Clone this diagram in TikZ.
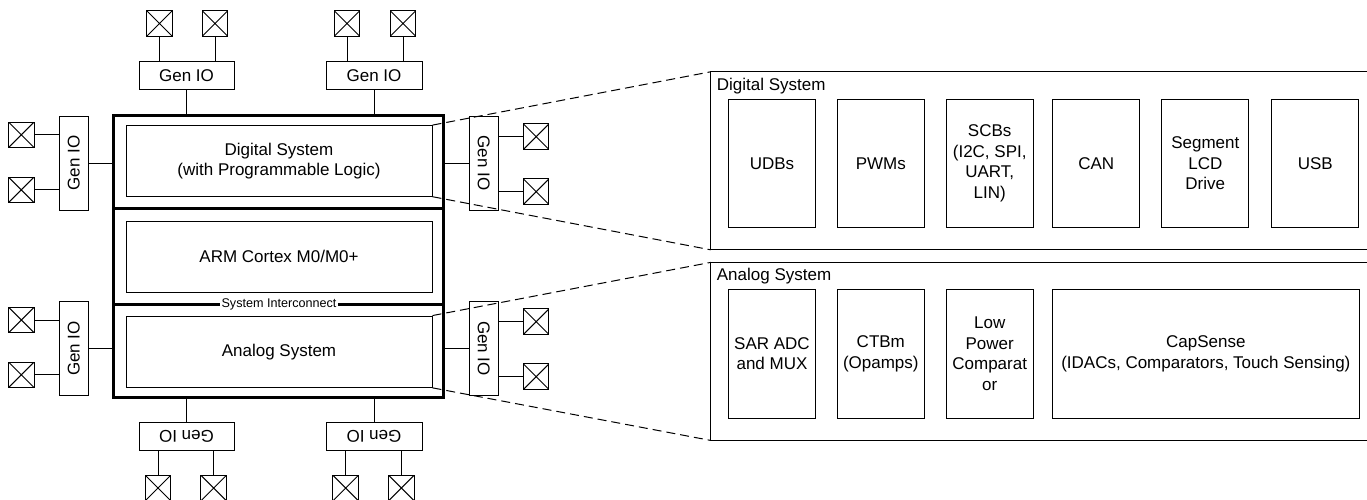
\documentclass[tikz,border=0pt]{standalone}
\usepackage{fontspec}
\setmainfont{Liberation Sans}
\begin{document}
\begin{tikzpicture}[x=0.5pt,y=-0.5pt,
  wire/.style={line width=0.5pt},
  box/.style={draw, line width=0.5pt, inner sep=0pt, align=center, font=\fontsize{8.5}{10.2}\selectfont},
  hgio/.style={box, minimum width=47.5pt, minimum height=13.75pt},
  vgio/.style={box, minimum width=14.5pt, minimum height=47pt},
  pad/.style={draw, line width=0.5pt, minimum size=12.75pt, inner sep=0pt,
    path picture={\draw[line width=0.5pt] (path picture bounding box.north west) -- (path picture bounding box.south east)
      (path picture bounding box.north east) -- (path picture bounding box.south west);}},
  inner/.style={box, minimum width=153pt, minimum height=35.3pt},
  blk/.style={box, minimum width=43.5pt, minimum height=64.4pt},
  panel/.style={inner sep=0pt, minimum width=328pt, minimum height=88.6pt},
  plabel/.style={anchor=west, inner sep=0pt, font=\fontsize{8.5}{10.2}\selectfont},
  dashline/.style={line width=0.5pt, dash pattern=on 4.5pt off 2.5pt},
  thick3/.style={line width=1.5pt}]
\useasboundingbox (0,0) rectangle (1367,499);

% main box
\node[draw, thick3, minimum width=165pt, minimum height=141.25pt, inner sep=0pt] (main) at (278.5,256.25) {};
\draw[thick3] (113.5,208) -- (443.5,208);
\draw[thick3] (113.5,304.3) -- (443.5,304.3);
\node[fill=white, inner xsep=1pt, inner ysep=0.3pt, font=\fontsize{6.3}{7}\selectfont] (si) at (279,304.3) {System Interconnect};

\node[inner] (digin) at (279,160.9) {Digital System\\(with Programmable Logic)};
\node[inner] (arm) at (279,256.9) {ARM Cortex M0/M0+};
\node[inner, minimum height=35.65pt] (anain) at (279,351.7) {Analog System};

% top Gen IO
\node[hgio] (gT1) at (186.5,75.5) {Gen IO};
\node[hgio, minimum width=48pt] (gT2) at (374,75.5) {Gen IO};
\node[pad] (pT1) at (159.5,23.5) {};
\node[pad] (pT2) at (215,23.5) {};
\node[pad] (pT3) at (347,23.5) {};
\node[pad] (pT4) at (403,23.5) {};
\draw[wire] (pT1.south) -- (pT1.south |- gT1.north);
\draw[wire] (pT2.south) -- (pT2.south |- gT1.north);
\draw[wire] (pT3.south) -- (pT3.south |- gT2.north);
\draw[wire] (pT4.south) -- (pT4.south |- gT2.north);
\draw[wire] (gT1.south) -- (gT1.south |- main.north);
\draw[wire] (gT2.south) -- (gT2.south |- main.north);

% bottom Gen IO
\node[hgio] (gB1) at (186.5,436.3) {\rotatebox{180}{Gen IO}};
\node[hgio, minimum width=48pt] (gB2) at (374,436.3) {\rotatebox{180}{Gen IO}};
\node[pad] (pB1) at (158,488) {};
\node[pad] (pB2) at (213.7,488) {};
\node[pad] (pB3) at (345.7,488) {};
\node[pad] (pB4) at (401.3,488) {};
\draw[wire] (pB1.north) -- (pB1.north |- gB1.south);
\draw[wire] (pB2.north) -- (pB2.north |- gB1.south);
\draw[wire] (pB3.north) -- (pB3.north |- gB2.south);
\draw[wire] (pB4.north) -- (pB4.north |- gB2.south);
\draw[wire] (gB1.north) -- (gB1.north |- main.south);
\draw[wire] (gB2.north) -- (gB2.north |- main.south);

% left Gen IO
\node[vgio] (gL1) at (73.8,163) {\rotatebox{90}{Gen IO}};
\node[vgio] (gL2) at (73.8,348.5) {\rotatebox{90}{Gen IO}};
\node[pad] (pL1) at (21.3,134.8) {};
\node[pad] (pL2) at (21.3,189.9) {};
\node[pad] (pL3) at (21.3,320) {};
\node[pad] (pL4) at (21.3,374.8) {};
\draw[wire] (pL1.east) -- (pL1.east -| gL1.west);
\draw[wire] (pL2.east) -- (pL2.east -| gL1.west);
\draw[wire] (pL3.east) -- (pL3.east -| gL2.west);
\draw[wire] (pL4.east) -- (pL4.east -| gL2.west);
\draw[wire] (gL1.east) -- (gL1.east -| main.west);
\draw[wire] (gL2.east) -- (gL2.east -| main.west);

% right Gen IO
\node[vgio] (gR1) at (483.8,163) {\rotatebox{-90}{Gen IO}};
\node[vgio] (gR2) at (483.8,348.5) {\rotatebox{-90}{Gen IO}};
\node[pad] (pR1) at (536.2,136.7) {};
\node[pad] (pR2) at (536.2,191.7) {};
\node[pad] (pR3) at (536.2,321.7) {};
\node[pad] (pR4) at (536.2,376.7) {};
\draw[wire] (pR1.west) -- (pR1.west -| gR1.east);
\draw[wire] (pR2.west) -- (pR2.west -| gR1.east);
\draw[wire] (pR3.west) -- (pR3.west -| gR2.east);
\draw[wire] (pR4.west) -- (pR4.west -| gR2.east);
\draw[wire] (main.east |- gR1.west) -- (gR1.west);
\draw[wire] (main.east |- gR2.west) -- (gR2.west);

% digital panel
\node[panel] (dpan) at (1039,160.8) {};
\draw[wire] (dpan.north east) -- (dpan.north west) -- (dpan.south west) -- (dpan.south east);
\node[plabel] (dlab) at (716.5,86) {Digital System};
\node[blk] (udb) at (772,163.4) {UDBs};
\node[blk] (pwm) at (880.8,163.4) {PWMs};
\node[blk] (scb) at (989.7,163.4) {SCBs\\(I2C, SPI,\\UART,\\LIN)};
\node[blk] (can) at (1096.3,163.4) {CAN};
\node[blk] (seg) at (1205.3,163.4) {Segment\\LCD\\Drive};
\node[blk] (usb) at (1315.3,163.4) {USB};

% analog panel
\node[panel] (apan) at (1039,351.4) {};
\draw[wire] (apan.north east) -- (apan.north west) -- (apan.south west) -- (apan.south east);
\node[plabel] (alab) at (716.5,276) {Analog System};
\node[blk] (sar) at (772,353.8) {SAR ADC\\and MUX};
\node[blk] (ctb) at (880.8,353.8) {CTBm\\(Opamps)};
\node[blk] (lpc) at (989.7,353.8) {Low\\Power\\Comparat\\or};
\node[blk, minimum width=153.15pt] (cap) at (1205.85,353.8) {CapSense\\(IDACs, Comparators, Touch Sensing)};

% zoom lines
\draw[dashline] (digin.north east) -- (dpan.north west);
\draw[dashline] (digin.south east) -- (dpan.south west);
\draw[dashline] (anain.north east) -- (apan.north west);
\draw[dashline] (anain.south east) -- (apan.south west);
\end{tikzpicture}
\end{document}
